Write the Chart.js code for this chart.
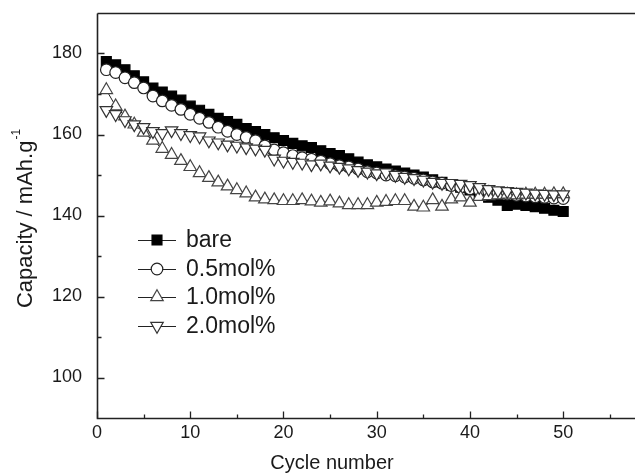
<!DOCTYPE html>
<html>
<head>
<meta charset="utf-8">
<title>Capacity vs cycle number</title>
<script src="https://cdn.jsdelivr.net/npm/chart.js@4.4.1/dist/chart.umd.min.js"></script>
<style>
  html, body { margin: 0; padding: 0; background: #fff; overflow: hidden; }
  canvas { display: block; }
</style>
</head>
<body>
<canvas id="myChart" width="635" height="475"></canvas>
<script>
// cycle numbers (x)
const cycles = [1, 2, 3, 4, 5, 6, 7, 8, 9, 10, 11, 12, 13, 14, 15, 16, 17, 18, 19, 20,
  21, 22, 23, 24, 25, 26, 27, 28, 29, 30, 31, 32, 33, 34, 35, 36, 37, 38, 39, 40,
  41, 42, 43, 44, 45, 46, 47, 48, 49, 50];

// capacity values, mAh/g
const bare = [178, 177.2, 176, 174.5, 173, 171.5, 170.5, 169.5, 168.5, 167,
  166, 165, 164, 163.2, 162.5, 161.5, 160.7, 160, 159.2, 158.5,
  157.8, 157.2, 156.8, 156, 155.3, 154.8, 154, 153.2, 152.5, 152,
  151.5, 151, 150.5, 150, 149.5, 148.8, 148.2, 147.5, 147, 146.3,
  145.5, 144.5, 143.8, 142.5, 142.8, 142.5, 142.2, 141.8, 141.3, 141];
const mol05 = [176, 175.3, 174, 172.8, 171.5, 169.5, 168.3, 167.2, 166.2, 165,
  164, 163, 161.8, 160.8, 160, 159.3, 158.5, 157.2, 156.2, 155.5,
  154.8, 154.3, 153.9, 153.4, 152.8, 152.3, 152, 151.5, 150.8, 150.5,
  150, 149.8, 149.5, 149.2, 148.8, 148.3, 148, 147.4, 147, 146.6,
  146.3, 146, 145.6, 145.3, 145, 144.8, 144.6, 144.5, 144.3, 144.2];
const mol10 = [171, 167, 164.5, 162.5, 160.5, 158.5, 156.5, 155, 153.5, 152,
  150.5, 149.3, 148.2, 147.2, 146.3, 145.5, 144.5, 144, 143.8, 143.6,
  143.6, 143.8, 143.5, 143.2, 143.5, 143, 142.6, 142.6, 142.6, 143.2,
  143.4, 143.6, 143.6, 142.2, 142, 143.8, 142.2, 144, 144.5, 143.2,
  144.6, 144.8, 145, 145.2, 145, 145.2, 145.2, 145.2, 145.3, 145.3];
const mol20 = [166, 165, 163.5, 162.5, 161.8, 160.8, 160.3, 161, 160.3, 159.8,
  159.5, 158.5, 158, 157.5, 157.2, 156.8, 156.5, 156.2, 154, 153.5,
  153.2, 153, 152.6, 152.8, 152.3, 152, 151.6, 151.2, 150.8, 150.4,
  150.6, 150, 149.5, 149.2, 148.8, 148.3, 148, 148, 147.8, 147.5,
  147, 146.5, 146.2, 146, 145.8, 145.6, 145.4, 145.3, 145.2, 145.2];

const seriesNames = ["bare", "0.5mol%", "1.0mol%", "2.0mol%"];

// tick labels
const xTicks = [0, 10, 20, 30, 40, 50];
const xMinorTicks = [5, 15, 25, 35, 45, 55];
const yTicks = [100, 120, 140, 160, 180];
const yMinorTicks = [110, 130, 150, 170];

const FONT = "'Liberation Sans', Arial, sans-serif";
const INK = "#1a1a1a";

function toPoints(values) {
  return cycles.map((c, i) => ({ x: c, y: values[i] }));
}

function makeSet(label, values, style, order) {
  return Object.assign({
    label: label,
    data: toPoints(values),
    showLine: true,
    borderColor: "#222",
    borderWidth: 1,
    pointBorderWidth: 1.2,
    order: order,
  }, style);
}

// legend marker, same shapes as Chart.js point styles
function legendMarker(ctx, ds, x, y) {
  const r = ds.pointRadius;
  ctx.fillStyle = ds.pointBackgroundColor;
  ctx.strokeStyle = ds.pointBorderColor;
  ctx.lineWidth = ds.pointBorderWidth;
  ctx.beginPath();
  if (ds.pointStyle === "rect") {
    const s = r * Math.SQRT1_2;
    ctx.rect(x - s, y - s, 2 * s, 2 * s);
  } else if (ds.pointStyle === "circle") {
    ctx.arc(x, y, r, 0, Math.PI * 2);
  } else {
    let a = (ds.pointRotation || 0) * Math.PI / 180;
    ctx.moveTo(x + Math.sin(a) * r, y - Math.cos(a) * r);
    a += Math.PI * 2 / 3;
    ctx.lineTo(x + Math.sin(a) * r, y - Math.cos(a) * r);
    a += Math.PI * 2 / 3;
    ctx.lineTo(x + Math.sin(a) * r, y - Math.cos(a) * r);
    ctx.closePath();
  }
  ctx.fill();
  ctx.stroke();
}

// frame, inward tick marks, axis titles, legend
const decorations = {
  id: "decorations",
  afterDraw(chart) {
    const { ctx, chartArea, scales } = chart;
    const xs = scales.x, ys = scales.y;
    const left = Math.round(chartArea.left) + 0.5;
    const top = Math.round(chartArea.top) + 0.5;
    const bottom = Math.round(chartArea.bottom) + 0.5;
    ctx.save();
    ctx.strokeStyle = "#222";
    ctx.lineWidth = 1.6;
    ctx.beginPath();
    ctx.moveTo(left, top);
    ctx.lineTo(chart.width, top);
    ctx.stroke();
    ctx.beginPath();
    ctx.moveTo(left, top);
    ctx.lineTo(left, bottom);
    ctx.lineTo(chart.width, bottom);
    ctx.stroke();

    ctx.lineWidth = 1.3;
    ctx.beginPath();
    xTicks.forEach(v => {
      const px = Math.round(xs.getPixelForValue(v)) + 0.5;
      ctx.moveTo(px, bottom);
      ctx.lineTo(px, bottom - 7);
    });
    xMinorTicks.forEach(v => {
      const px = Math.round(xs.getPixelForValue(v)) + 0.5;
      ctx.moveTo(px, bottom);
      ctx.lineTo(px, bottom - 4);
    });
    yTicks.forEach(v => {
      const py = Math.round(ys.getPixelForValue(v)) + 0.5;
      ctx.moveTo(left, py);
      ctx.lineTo(left + 7, py);
    });
    yMinorTicks.forEach(v => {
      const py = Math.round(ys.getPixelForValue(v)) + 0.5;
      ctx.moveTo(left, py);
      ctx.lineTo(left + 4, py);
    });
    ctx.stroke();

    // axis titles
    ctx.fillStyle = INK;
    ctx.textBaseline = "middle";
    ctx.textAlign = "center";
    ctx.font = "20px " + FONT;
    ctx.fillText("Cycle number", 332, 463);

    ctx.save();
    ctx.translate(26, 219);
    ctx.rotate(-Math.PI / 2);
    ctx.textAlign = "left";
    ctx.font = "22px " + FONT;
    const main = "Capacity / mAh.g";
    const w1 = ctx.measureText(main).width;
    ctx.font = "12px " + FONT;
    const w2 = ctx.measureText("-1").width;
    const start = -(w1 + w2) / 2;
    ctx.font = "22px " + FONT;
    ctx.fillText(main, start, 0);
    ctx.font = "12px " + FONT;
    ctx.fillText("-1", start + w1 + 1, -9);
    ctx.restore();

    // legend
    const rows = [240, 269, 297, 326];
    chart.data.datasets.forEach((ds, i) => {
      const y = rows[i];
      ctx.strokeStyle = "#222";
      ctx.lineWidth = 1.2;
      ctx.beginPath();
      ctx.moveTo(138, y + 0.5);
      ctx.lineTo(176, y + 0.5);
      ctx.stroke();
      legendMarker(ctx, ds, 157, y);
      ctx.fillStyle = INK;
      ctx.font = "23px " + FONT;
      ctx.textAlign = "left";
      ctx.textBaseline = "middle";
      ctx.fillText(seriesNames[i], 186, y + 1);
    });
    ctx.restore();
  }
};

const chartData = {
  datasets: [
    makeSet(seriesNames[0], bare, {
      pointStyle: "rect", pointRadius: 7,
      pointBackgroundColor: "#000", pointBorderColor: "#000",
    }, 4),
    makeSet(seriesNames[1], mol05, {
      pointStyle: "circle", pointRadius: 5.8,
      pointBackgroundColor: "#fff", pointBorderColor: "#222",
    }, 3),
    makeSet(seriesNames[2], mol10, {
      pointStyle: "triangle", pointRadius: 7.2,
      pointBackgroundColor: "#fff", pointBorderColor: "#444",
    }, 2),
    makeSet(seriesNames[3], mol20, {
      pointStyle: "triangle", pointRadius: 7.2, pointRotation: 180,
      pointBackgroundColor: "#fff", pointBorderColor: "#333",
    }, 1),
  ],
};

const chartConfig = {
  type: "scatter",
  data: chartData,
  plugins: [decorations],
  options: {
    responsive: false,
    animation: false,
    devicePixelRatio: 1,
    layout: { autoPadding: false, padding: { top: 13, right: 0, bottom: 0, left: 0 } },
    plugins: {
      legend: { display: false },
      tooltip: { enabled: false },
    },
    scales: {
      x: {
        type: "linear",
        min: 0,
        max: 57.7,
        grid: { display: false },
        border: { display: false },
        afterBuildTicks(scale) { scale.ticks = xTicks.map(v => ({ value: v })); },
        afterFit(scale) {
          scale.height = 57;
          scale.paddingLeft = 0;
          scale.paddingRight = 0;
        },
        ticks: {
          color: INK,
          padding: -4,
          maxRotation: 0,
          font: { family: FONT, size: 18 },
        },
      },
      y: {
        type: "linear",
        min: 90,
        max: 190,
        grid: { display: false },
        border: { display: false },
        afterBuildTicks(scale) { scale.ticks = yTicks.map(v => ({ value: v })); },
        afterFit(scale) {
          scale.width = 97;
          scale.paddingTop = 0;
          scale.paddingBottom = 0;
        },
        ticks: {
          color: INK,
          padding: 7,
          font: { family: FONT, size: 18 },
        },
      },
    },
  },
};

new Chart(document.getElementById("myChart"), chartConfig);
</script>
</body>
</html>
